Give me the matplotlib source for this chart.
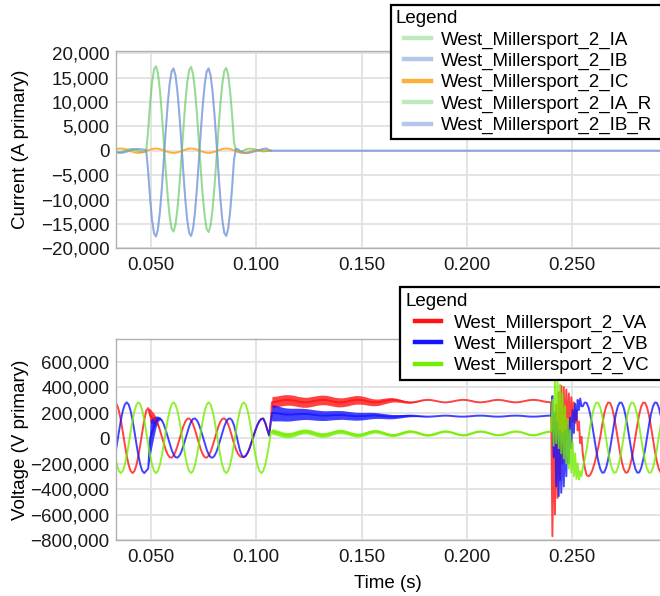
import numpy as np
import matplotlib
matplotlib.use("Agg")
import matplotlib.pyplot as plt
from matplotlib.lines import Line2D
from matplotlib.legend_handler import HandlerLine2D
from matplotlib.ticker import FixedLocator, FuncFormatter

plt.rcParams["font.family"] = ["Liberation Sans", "DejaVu Sans"]
FS = 13.5

# ---------------------------------------------------------------- sample clocks
STEP = 1.0 / 1080.0          # 20 electrical degrees at 60 Hz
T0 = 0.0330                  # first sample of the fault record
N_MAIN = 81                  # samples up to the line opening
T_END = 0.2920               # end of record
t_main = T0 + np.arange(N_MAIN) * STEP
t_open = np.linspace(0.1075, 0.2400, 64)    # line open, trapped charge
t_rc = np.linspace(0.2400, 0.2550, 26)      # reclose transient
t_post = 0.2550 + np.arange(41) * STEP      # after reclose

# ---------------------------------------------------------------- currents (kA)
ia_ka = [-0.2, -0.3, -0.35, -0.3, -0.15, 0.0, 0.15, 0.28, 0.35, 0.33, 0.22, 0.08, -0.08, -0.2, -0.28, -0.25, -0.15,
         4.20, 9.70, 14.04, 16.67, 17.32, 15.86, 12.47, 7.60, 1.82,
         -4.02, -9.28, -13.43, -15.95, -16.57, -15.17, -11.94, -7.27, -1.74,
         4.16, 9.61, 13.91, 16.53, 17.17, 15.72, 12.37, 7.53, 1.81,
         -4.04, -9.34, -13.51, -16.05, -16.67, -15.26, -12.01, -7.31, -1.75,
         4.11, 9.50, 13.75, 16.34, 16.97, 15.54, 12.22, 7.45, 1.79,
         0.1, -0.2, -0.35, -0.2, 0.05, 0.25, 0.38, 0.42, 0.4, 0.35, 0.25, 0.12, 0.0, -0.1, -0.15, -0.1, -0.05, 0.0, 0.0]
ib_ka = [-0.25, -0.35, -0.4, -0.42, -0.38, -0.3, -0.18, -0.05, 0.1, 0.22, 0.3, 0.35, 0.35, 0.3, 0.25, 0.2, 0.1,
         -4.26, -9.84, -14.24, -16.91, -17.56, -16.09, -12.65, -7.71, -1.85,
         4.09, 9.45, 13.67, 16.24, 16.87, 15.45, 12.15, 7.40, 1.77,
         -4.24, -9.78, -14.16, -16.82, -17.47, -16.00, -12.58, -7.67, -1.84,
         4.09, 9.45, 13.67, 16.24, 16.87, 15.45, 12.15, 7.40, 1.77,
         -4.24, -9.78, -14.16, -16.82, -17.47, -16.00, -12.58, -7.67, -1.84,
         0.4, 0.3, 0.0, -0.3, -0.45, -0.5, -0.48, -0.4, -0.3, -0.2, -0.08, 0.05, 0.15, 0.25, 0.35, 0.45, 0.4, 0.1, 0.0]
ic_ka = [0.23, 0.34, 0.42, 0.45, 0.42, 0.34, 0.23, 0.08, -0.08, -0.23, -0.34, -0.42, -0.45, -0.42, -0.34, -0.23, -0.08, 0.08,
         0.23, 0.34, 0.42, 0.45, 0.42, 0.34, 0.23, 0.08, -0.08, -0.23, -0.34, -0.42, -0.45, -0.42, -0.34, -0.23, -0.08, 0.08,
         0.23, 0.34, 0.42, 0.45, 0.42, 0.34, 0.23, 0.08, -0.08, -0.23, -0.34, -0.42, -0.45, -0.42, -0.34, -0.23, -0.08, 0.08,
         0.23, 0.34, 0.42, 0.45, 0.42, 0.34, 0.23, 0.08, -0.08, -0.23, -0.34, -0.42,
         -0.45, -0.40, -0.30, -0.20, -0.10, 0.00, 0.08, 0.12, 0.12, 0.08, 0.03, 0.0, 0.0, 0.0, 0.0]

# ---------------------------------------------------------------- voltages (kV)
va_main = [280, 263, 214, 140, 49, -48, -138, -211, -258, -275, -258, -211, -138, -48, 49, 140, 214,
           235, 175, 160,
           154, 139, 108, 63, 11, -43, -91, -128, -150, -154, -139, -108, -63, -11, 43, 91, 128, 150,
           154, 139, 108, 63, 11, -43, -91, -128, -150, -154, -139, -108, -63, -11, 43, 91, 128, 150,
           154,
           139, 108, 63, 11, -43, -88, -122, -142, -150, -150, -140, -115, -78, -32, 15, 62, 103, 133,
           150, 153, 120, 70, 20, 150]
vb_main = [-138, -48, 49, 140, 214, 263, 280, 263, 214, 140, 49, -48, -138, -211, -258, -275, -258,
           -240,
           0, 50, 91, 128, 150, 154,
           139, 108, 63, 11, -43, -91, -128, -150, -154, -139, -108, -63, -11, 43, 91, 128, 150, 154,
           139, 108, 63, 11, -43, -91, -128, -150, -154, -139, -108, -63, -11, 43, 91, 128, 150, 154,
           139, 100, 40, -30, -95, -135, -150, -140, -115, -78, -32, 15, 62, 103, 133, 150, 153, 120,
           70, 20, 150]
vc_main = [-138, -211, -258, -275, -258, -211, -138, -48, 49, 140, 214, 263, 280, 263, 214, 140, 49, -48,
           -138, -211, -258, -275, -258, -211, -138, -48, 49, 140, 214, 263, 280, 263, 214, 140, 49, -48,
           -138, -211, -258, -275, -258, -211, -138, -48, 49, 140, 214, 263, 280, 263, 214, 140, 49, -48,
           -138, -211, -258, -275, -258, -211, -138, -48, 49, 140, 214, 263, 280, 263, 214, 140, 49, -48,
           -138, -211, -258, -275, -258, -211, -138, -48, 49]

# high-frequency ringing half-width at fault inception (samples 17..25)
va_burst = [0, 55, 50, 40, 25, 12, 5, 2, 0]
vb_burst = [0, 140, 110, 75, 45, 22, 10, 3, 0]

va_open = [281, 286, 294, 299, 299, 294, 286, 281, 281, 287, 294, 299, 299, 293, 285, 280,
           281, 287, 295, 300, 299, 293, 285, 280, 281, 288, 295, 300, 298, 292, 284, 280,
           282, 288, 296, 300, 298, 291, 284, 280, 282, 289, 296, 300, 298, 291, 283, 280,
           283, 289, 297, 300, 297, 290, 283, 280, 283, 290, 297, 300, 297, 290, 283, 280]
vb_open = [199, 195, 190, 185, 184, 186, 188, 189, 188, 184, 180, 177, 176, 178, 180, 181,
           181, 177, 174, 171, 172, 173, 176, 177, 176, 173, 170, 168, 169, 171, 174, 176,
           175, 173, 170, 168, 169, 171, 174, 176, 175, 172, 169, 168, 169, 172, 175, 176,
           175, 172, 169, 168, 169, 172, 175, 176, 175, 172, 169, 168, 169, 172, 175, 176]
vc_open = [52, 44, 32, 24, 24, 32, 44, 52, 52, 43, 32, 24, 25, 33, 45, 52,
           51, 42, 31, 24, 25, 34, 46, 53, 51, 41, 30, 23, 25, 35, 46, 53,
           50, 41, 29, 23, 26, 36, 47, 53, 50, 40, 29, 23, 26, 37, 48, 53,
           49, 39, 28, 23, 27, 38, 48, 53, 49, 38, 27, 23, 28, 39, 49, 53]
va_open_hw = [44, 43, 42, 42, 41, 41, 40, 40, 39, 39, 38, 38, 37, 37, 36, 36, 35, 35, 34, 34, 33,
              31, 29, 27, 25, 23, 21, 18, 15, 12, 9, 7, 5, 3, 2, 1, 0] + [0] * 27
vb_open_hw = [65, 60, 55, 52, 50, 48, 46, 44, 42, 41, 40, 39, 38, 37, 36, 35, 34, 33, 32, 31, 30,
              28, 26, 24, 22, 20, 19, 17, 15, 13, 11, 9, 7, 5, 3, 1] + [0] * 28
vc_open_hw = [22, 22, 21, 21, 20, 20, 20, 19, 19, 19, 18, 18, 18, 18, 17,
              17, 17, 16, 16, 16, 15, 15, 15, 14, 14, 13, 13, 12, 12, 11, 11,
              10, 10, 10, 9, 9, 9, 9, 8, 8, 8, 8, 8, 7, 7, 7, 7, 7, 7, 7,
              6, 6, 6, 6, 6, 6, 6, 6, 6, 6, 6, 6, 6, 6]

va_rc = [280, -770, 120, -600, 260, -470, 360, -330, 410, -200, 400, -90, 380, 0, 350, 90,
         320, 130, 280, 120, 220, 60, 130, -40, 10, -120]
vb_rc = [176, 330, -150, 200, -380, 120, -456, 60, -430, 40, -380, 60, -300, 100, -200, 160,
         -80, 220, 40, 270, 140, 300, 220, 310, 250, 249]
vc_rc = [53, 300, -60, 450, -40, 440, -80, 420, -120, 350, -160, 250, -200, 150, -240, 60,
         -270, -30, -300, -120, -320, -200, -325, -260, -300, -233]

va_post = [-120, -230, -290, -300, -285, -250, -200, -140, -70, 10, 106, 189, 249, 279, 276, 239,
           174, 87, -10, -103, -184, -243, -272, -269, -233, -169, -85, 10, 106, 189, 249, 279,
           276, 239, 174, 87, -10, -103, -184, -243, -272]
vb_post = [249, 279, 276, 239, 174, 87, -10, -103, -184, -243, -272, -269, -233, -169, -85, 10,
           106, 189, 249, 279, 276, 239, 174, 87, -10, -103, -184, -243, -272, -269, -233, -169,
           -85, 10, 106, 189, 249, 279, 276, 239, 174]
vc_post = [-233, -169, -85, 10, 106, 189, 249, 279, 276, 239, 174, 87, -10, -103, -184, -243,
           -272, -269, -233, -169, -85, 10, 106, 189, 249, 279, 276, 239, 174, 87, -10, -103,
           -184, -243, -272, -269, -233, -169, -85, 10, 106]

current_labels = ["West_Millersport_2_IA", "West_Millersport_2_IB", "West_Millersport_2_IC",
                  "West_Millersport_2_IA_R", "West_Millersport_2_IB_R"]
voltage_labels = ["West_Millersport_2_VA", "West_Millersport_2_VB", "West_Millersport_2_VC"]
x_ticks = [0.05, 0.10, 0.15, 0.20, 0.25]
i_ticks = [-20000, -15000, -10000, -5000, 0, 5000, 10000, 15000, 20000]
v_ticks = [-800000, -600000, -400000, -200000, 0, 200000, 400000, 600000]

GREEN_I, BLUE_I, ORANGE_I = "#5cc85a", "#6d8fdb", "#ffa726"
RED_V, BLUE_V, GREEN_V = "#ff1414", "#1414ff", "#74ee00"


def voltage_record(main, burst, open_c, open_hw, rc, post):
    t = np.concatenate([t_main, t_open, t_rc[1:], t_post[1:]])
    v = np.concatenate([main, open_c, rc[1:], post[1:]]).astype(float) * 1e3
    hw_main = np.zeros(N_MAIN)
    hw_main[17:17 + len(burst)] = burst
    hw = np.concatenate([hw_main, open_hw, np.zeros(len(rc) - 1), np.zeros(len(post) - 1)]) * 1e3
    return t, v, hw


def fmt_thousands(v, pos):
    return f"{v:,.0f}".replace("-", "\u2212")


class ShiftedLine(HandlerLine2D):
    """Legend line drawn a little to the right of the handle box start."""
    def __init__(self, shift_pt, **kw):
        super().__init__(**kw)
        self.shift_pt = shift_pt

    def create_artists(self, legend, orig_handle, xdescent, ydescent, width, height, fontsize, trans):
        return super().create_artists(legend, orig_handle, xdescent - self.shift_pt, ydescent,
                                      width, height, fontsize, trans)


W, H = 660, 596
fig = plt.figure(figsize=(W / 100, H / 100), dpi=100)
left = 115.7 / W
ax1 = fig.add_axes([left, 1 - 248.3 / H, 1 - left, (248.3 - 50.7) / H])
ax2 = fig.add_axes([left, 1 - 540.0 / H, 1 - left, (540.0 - 339.3) / H])


def style(ax, yticks, ylim):
    ax.set_xlim(0.03333, 0.29167)
    ax.set_ylim(*ylim)
    ax.xaxis.set_major_locator(FixedLocator(x_ticks))
    ax.yaxis.set_major_locator(FixedLocator(yticks))
    ax.xaxis.set_major_formatter(FuncFormatter(lambda v, p: f"{v:.3f}"))
    ax.yaxis.set_major_formatter(FuncFormatter(fmt_thousands))
    ax.grid(True, color="#e2e2e2", lw=1.3)
    ax.set_axisbelow(True)
    for s in ("left", "top", "bottom"):
        ax.spines[s].set_color("#b0b0b0")
        ax.spines[s].set_linewidth(1.0)
    ax.spines["right"].set_visible(False)
    ax.tick_params(axis="both", length=0, labelsize=FS, labelcolor="#1a1a1a")
    ax.tick_params(axis="x", pad=6.5)
    ax.tick_params(axis="y", pad=4.5)


# ---- currents (the B-phase records carry the zero line to the end of the record)
ia = np.array(ia_ka) * 1e3
ic = np.array(ic_ka) * 1e3
t_b = np.append(t_main, T_END)
ib = np.append(ib_ka, 0.0) * 1e3
ax1.plot(t_main, ia, color=GREEN_I, alpha=0.4, lw=1.4)
ax1.plot(t_b, ib, color=BLUE_I, alpha=0.5, lw=1.4)
ax1.plot(t_main, ic, color=ORANGE_I, alpha=0.9, lw=1.4)
ax1.plot(t_main, ia, color=GREEN_I, alpha=0.4, lw=1.4)
ax1.plot(t_b, ib, color=BLUE_I, alpha=0.5, lw=1.4)
style(ax1, i_ticks, (-20000, 20500))
ax1.set_ylabel("Current (A primary)", fontsize=FS)
ax1.yaxis.set_label_coords(-0.160, 0.5)

# ---- voltages
for args, c in ((va_main, va_burst, va_open, va_open_hw, va_rc, va_post), RED_V), \
               ((vb_main, vb_burst, vb_open, vb_open_hw, vb_rc, vb_post), BLUE_V), \
               ((vc_main, [], vc_open, vc_open_hw, vc_rc, vc_post), GREEN_V):
    t, v, hw = voltage_record(*args)
    ax2.fill_between(t, v - hw, v + hw, color=c, alpha=0.8, lw=0)
    ax2.plot(t, v, color=c, alpha=0.8, lw=1.4)
style(ax2, v_ticks, (-800000, 775000))
ax2.set_ylabel("Voltage (V primary)", fontsize=FS)
ax2.yaxis.set_label_coords(-0.160, 0.5)
ax2.set_xlabel("Time (s)", fontsize=FS)
ax2.xaxis.set_label_coords(0.5, -0.175)

# ---- legends
def make_legend(handles, labels, x_px, y_px, shift_pt, hl, htp, bp):
    leg = fig.legend(handles, labels, loc="upper left",
                     bbox_to_anchor=(x_px / W, 1 - y_px / H, 0.6, 0), bbox_transform=fig.transFigure,
                     mode="expand", title="Legend", alignment="left", frameon=True, fancybox=False,
                     edgecolor="black", framealpha=1, fontsize=FS, title_fontsize=FS,
                     borderpad=bp, labelspacing=0.22, handlelength=hl, handletextpad=htp,
                     borderaxespad=0, handler_map={Line2D: ShiftedLine(shift_pt)})
    leg.get_frame().set_linewidth(1.6)
    return leg


cur_handles = [Line2D([], [], color=GREEN_I, alpha=0.4, lw=3.2),
               Line2D([], [], color=BLUE_I, alpha=0.5, lw=3.2),
               Line2D([], [], color=ORANGE_I, alpha=0.9, lw=3.2),
               Line2D([], [], color=GREEN_I, alpha=0.4, lw=3.2),
               Line2D([], [], color=BLUE_I, alpha=0.5, lw=3.2)]
make_legend(cur_handles, current_labels, 390.7, 5.3, 5.8, 1.48, 0.92, 0.26)

volt_handles = [Line2D([], [], color=RED_V, lw=3.2),
                Line2D([], [], color=BLUE_V, lw=3.2),
                Line2D([], [], color=GREEN_V, lw=3.2)]
make_legend(volt_handles, voltage_labels, 400.0, 287.3, 6.4, 1.42, 1.12, 0.31)

fig.savefig("out.png", dpi=100)
